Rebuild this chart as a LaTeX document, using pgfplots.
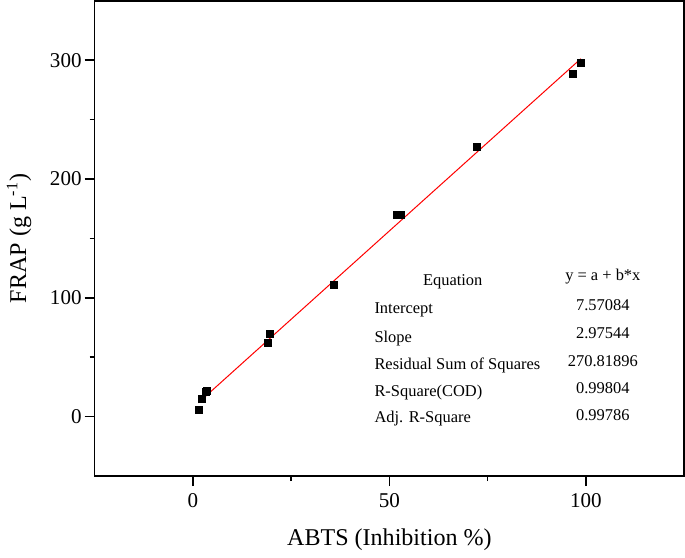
\documentclass[border=0pt]{standalone}
\usepackage{pgfplots}
\pgfplotsset{compat=1.18}
\usepackage{fontspec}
\setmainfont{Liberation Serif}
\begin{document}
\begin{tikzpicture}
\begin{axis}[
    scale only axis,
    width=294pt,
    height=237pt,
    xmin=-25, xmax=125,
    ymin=-50, ymax=350,
    xtick={0,50,100},
    ytick={0,100,200,300},
    minor x tick num=1,
    minor y tick num=1,
    tick align=outside,
    xtick pos=bottom,
    ytick pos=left,
    major tick length=5pt,
    minor tick length=2.5pt,
    axis line style={line width=0.8pt},
    every tick/.style={black,line width=0.8pt},
    /pgf/number format/assume math mode=true,
    tick label style={font=\fontsize{10.5}{12}\selectfont},
    yticklabel style={xshift=2pt},
    xlabel={ABTS (Inhibition \%)},
    ylabel={FRAP (g L\textsuperscript{-1})},
    label style={font=\fontsize{12}{14}\selectfont},
    xlabel style={yshift=-4pt},
    ylabel style={yshift=2.5pt},
]

% measured points
\addplot[only marks, mark=square*, mark size=1.75pt, black] coordinates {
    (1.4,6.0)
    (2.3,15.2)
    (3.3,20.5)
    (3.6,21.3)
    (19.1,61.7)
    (19.6,69.3)
    (35.8,110.7)
    (52.0,169.9)
    (52.8,169.5)
    (72.2,226.8)
    (96.7,288.5)
    (98.7,298.1)
};

% linear fit y = a + b*x
\addplot[red, line width=0.5pt] coordinates {
    (1.4,11.74)
    (98.7,301.25)
};

\begin{scope}[every node/.style={font=\fontsize{8.2}{10}\selectfont}]
\node[anchor=center] at (axis cs:66.1,113.3) {Equation};
\node[anchor=west] at (axis cs:44.4,89.6) {Intercept};
\node[anchor=west] at (axis cs:44.4,65.9) {Slope};
\node[anchor=west] at (axis cs:44.4,43.1) {Residual Sum of Squares};
\node[anchor=west] at (axis cs:44.4,20.3) {R-Square(COD)};
\node[anchor=west] at (axis cs:44.4,-1.7) {Adj. R-Square};
\node[anchor=center] at (axis cs:104.3,118.3) {y = a + b*x};
\node[anchor=center] at (axis cs:104.3,93.8) {7.57084};
\node[anchor=center] at (axis cs:104.3,70.2) {2.97544};
\node[anchor=center] at (axis cs:104.3,46.5) {270.81896};
\node[anchor=center] at (axis cs:104.3,23.7) {0.99804};
\node[anchor=center] at (axis cs:104.3,0.85) {0.99786};
\end{scope}

\end{axis}
\end{tikzpicture}
\end{document}
